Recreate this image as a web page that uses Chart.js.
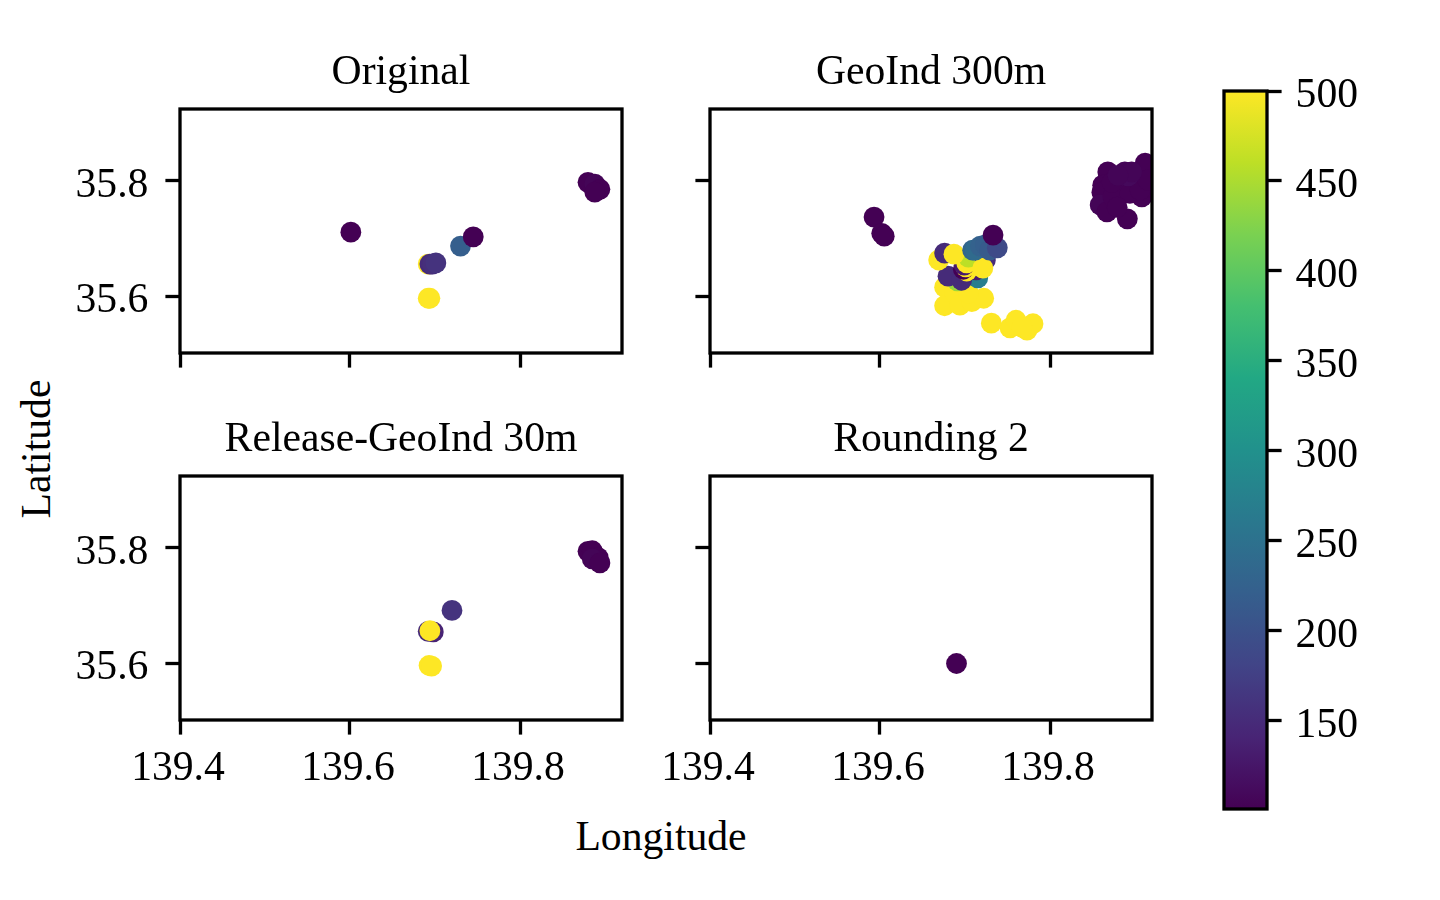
<!DOCTYPE html>
<html>
<head>
<meta charset="utf-8">
<title>Scatter panels</title>
<script src="https://cdn.jsdelivr.net/npm/chart.js@4/dist/chart.umd.min.js"></script>
<style>
  html, body { margin: 0; padding: 0; background: #fff; overflow: hidden; }
  canvas { position: absolute; }
  .label { position: absolute; font: 41.67px "Liberation Serif", serif; color: #000; white-space: nowrap; transform: translate(-50%, -50%); }
</style>
</head>
<body>
<div class="label" style="left:661px; top:836px;">Longitude</div>
<div class="label" style="left:36px; top:449px; transform: translate(-50%, -50%) rotate(-90deg);">Latitude</div>

<canvas id="panel0" width="582" height="375" style="left:70px; top:48px;"></canvas>
<canvas id="panel1" width="582" height="375" style="left:600px; top:48px;"></canvas>
<canvas id="panel2" width="582" height="375" style="left:70px; top:415px;"></canvas>
<canvas id="panel3" width="582" height="375" style="left:600px; top:415px;"></canvas>
<canvas id="colorbar" width="220" height="796" style="left:1194px; top:52px;"></canvas>

<script>
const titles = ["Original", "GeoInd 300m", "Release-GeoInd 30m", "Rounding 2"];
const lonTicks = [139.4, 139.6, 139.8];
const latTicks = [35.6, 35.8];
const barTicks = [150, 200, 250, 300, 350, 400, 450, 500];

const origLon = [139.692, 139.694, 139.692, 139.694, 139.697, 139.701, 139.730, 139.745, 139.601, 139.880, 139.888, 139.894, 139.888];
const origLat = [35.597, 35.597, 35.656, 35.656, 35.656, 35.658, 35.687, 35.703, 35.711, 35.797, 35.794, 35.785, 35.780];
const origVal = [500, 500, 500, 150, 155, 160, 220, 101, 101, 101, 105, 101, 101];

const geoLon = [139.676, 139.676, 139.688, 139.694, 139.708, 139.722, 139.704, 139.731, 139.753, 139.760, 139.773, 139.780, 139.767,
  139.691, 139.715, 139.680, 139.696, 139.713,
  139.700, 139.702, 139.698, 139.701, 139.699, 139.702,
  139.704,
  139.669, 139.676, 139.687, 139.724, 139.721,
  139.709, 139.712, 139.718, 139.724, 139.729, 139.738, 139.733,
  139.593, 139.602, 139.605,
  139.868, 139.912, 139.888, 139.862, 139.861, 139.859, 139.867, 139.891, 139.908, 139.914, 139.898, 139.882, 139.874, 139.894, 139.879, 139.906, 139.915, 139.873, 139.892, 139.896, 139.880];
const geoLat = [35.616, 35.584, 35.606, 35.585, 35.591, 35.597, 35.606, 35.554, 35.546, 35.559, 35.542, 35.553, 35.547,
  35.627, 35.632, 35.635, 35.628, 35.646,
  35.641, 35.644, 35.647, 35.651, 35.654, 35.658,
  35.668,
  35.663, 35.675, 35.673, 35.663, 35.649,
  35.680, 35.680, 35.687, 35.689, 35.680, 35.684, 35.706,
  35.737, 35.709, 35.704,
  35.815, 35.830, 35.815, 35.792, 35.780, 35.758, 35.746, 35.734, 35.772, 35.789, 35.804, 35.792, 35.772, 35.778, 35.754, 35.784, 35.801, 35.797, 35.808, 35.815, 35.809];
const geoVal = [500, 500, 500, 500, 500, 500, 500, 500, 500, 500, 500, 500, 500,
  440, 270, 150, 150, 130,
  150, 500, 101, 500, 130, 500,
  460,
  500, 150, 500, 150, 500,
  230, 240, 225, 220, 215, 190, 101,
  101, 101, 101,
  101, 101, 105, 101, 101, 105, 101, 101, 101, 101, 110, 105, 101, 101, 101, 101, 101, 101, 110, 105, 105];

const relLon = [139.693, 139.696, 139.720, 139.692, 139.698, 139.694, 139.880, 139.885, 139.892, 139.885, 139.894];
const relLat = [35.5965, 35.5955, 35.6915, 35.6555, 35.6545, 35.6565, 35.7935, 35.7945, 35.7825, 35.7805, 35.7735];
const relVal = [500, 500, 160, 150, 140, 500, 101, 101, 101, 105, 101];

const roundLon = [139.690];
const roundLat = [35.600];
const roundVal = [101];

const panelLon = [origLon, geoLon, relLon, roundLon];
const panelLat = [origLat, geoLat, relLat, roundLat];
const panelVal = [origVal, geoVal, relVal, roundVal];

const viridis = ["#440154", "#482475", "#414487", "#355f8d", "#2a788e", "#21918c", "#22a884", "#44bf70", "#7ad151", "#bddf26", "#fde725"];
const valMin = 101, valMax = 500;

const FONT = { family: '"Liberation Serif", serif', size: 41.67, weight: "normal" };
const LINE = 3.3, TICK = 14.6;

Chart.defaults.font.family = FONT.family;
Chart.defaults.font.size = FONT.size;
Chart.defaults.color = "#000";

function hexToRgb(h) {
  return [1, 3, 5].map(i => parseInt(h.substr(i, 2), 16));
}

function colorFor(v) {
  const t = Math.max(0, Math.min(1, (v - valMin) / (valMax - valMin))) * (viridis.length - 1);
  const i = Math.min(Math.floor(t), viridis.length - 2);
  const a = hexToRgb(viridis[i]), b = hexToRgb(viridis[i + 1]);
  const c = a.map((x, k) => Math.round(x + (b[k] - x) * (t - i)));
  return `rgb(${c[0]},${c[1]},${c[2]})`;
}

// matplotlib style box around the axes
const framePlugin = {
  id: "frame",
  afterDatasetsDraw(chart) {
    const { ctx, chartArea: a } = chart;
    ctx.save();
    ctx.strokeStyle = "#000";
    ctx.lineWidth = LINE;
    ctx.strokeRect(a.left, a.top, a.right - a.left, a.bottom - a.top);
    ctx.restore();
  }
};

function makePanel(i) {
  const showX = i >= 2, showY = i % 2 === 0;
  new Chart(document.getElementById("panel" + i), {
    type: "scatter",
    data: {
      datasets: [{
        data: panelLon[i].map((x, k) => ({ x: x, y: panelLat[i][k] })),
        pointRadius: 10.4,
        pointBorderWidth: 0,
        pointBackgroundColor: panelVal[i].map(colorFor)
      }]
    },
    options: {
      responsive: false,
      animation: false,
      layout: { padding: { left: 0, right: 30, top: 0, bottom: 0 } },
      plugins: {
        legend: { display: false },
        tooltip: { enabled: false },
        title: { display: true, fullSize: false, text: titles[i], font: FONT, color: "#000", padding: { top: 0, bottom: 11 } }
      },
      scales: {
        x: {
          type: "linear",
          min: 139.4,
          max: 139.92,
          afterBuildTicks: s => { s.ticks = lonTicks.map(v => ({ value: v })); },
          afterFit: s => { s.height = 70; },
          border: { display: false },
          grid: { drawOnChartArea: false, color: "#000", tickLength: TICK, tickWidth: LINE },
          ticks: { display: showX, font: FONT, color: "#000", padding: 9, labelOffset: -2, maxRotation: 0, autoSkip: false, callback: v => v.toFixed(1) }
        },
        y: {
          type: "linear",
          min: 35.5025,
          max: 35.9235,
          afterBuildTicks: s => { s.ticks = latTicks.map(v => ({ value: v })); },
          afterFit: s => { s.width = 110; },
          border: { display: false },
          grid: { drawOnChartArea: false, color: "#000", tickLength: TICK, tickWidth: LINE },
          ticks: { display: showY, font: FONT, color: "#000", padding: 17, labelOffset: 5, autoSkip: false, callback: v => v.toFixed(1) }
        }
      }
    },
    plugins: [framePlugin]
  });
}

[0, 1, 2, 3].forEach(makePanel);

function barGradient(context) {
  const chart = context.chart;
  if (!chart.chartArea) return viridis[0];
  const g = chart.ctx.createLinearGradient(0, chart.chartArea.bottom, 0, chart.chartArea.top);
  viridis.forEach((c, i) => g.addColorStop(i / (viridis.length - 1), c));
  return g;
}

new Chart(document.getElementById("colorbar"), {
  type: "bar",
  data: {
    labels: [""],
    datasets: [{
      data: [[valMin, valMax]],
      backgroundColor: barGradient,
      barPercentage: 1,
      categoryPercentage: 1,
      borderWidth: 0,
      borderSkipped: false
    }]
  },
  options: {
    responsive: false,
    animation: false,
    layout: { padding: { left: 30, right: 0, top: 30, bottom: 0 } },
    plugins: { legend: { display: false }, tooltip: { enabled: false } },
    scales: {
      x: { display: false },
      y: {
        position: "right",
        min: valMin,
        max: valMax,
        afterBuildTicks: s => { s.ticks = barTicks.map(v => ({ value: v })); },
        afterFit: s => { s.width = 147; },
        border: { display: false },
        grid: { drawOnChartArea: false, color: "#000", tickLength: TICK, tickWidth: LINE },
        ticks: { font: FONT, color: "#000", padding: 14, labelOffset: 5, autoSkip: false, callback: v => String(v) }
      }
    }
  },
  plugins: [framePlugin]
});
</script>
</body>
</html>
